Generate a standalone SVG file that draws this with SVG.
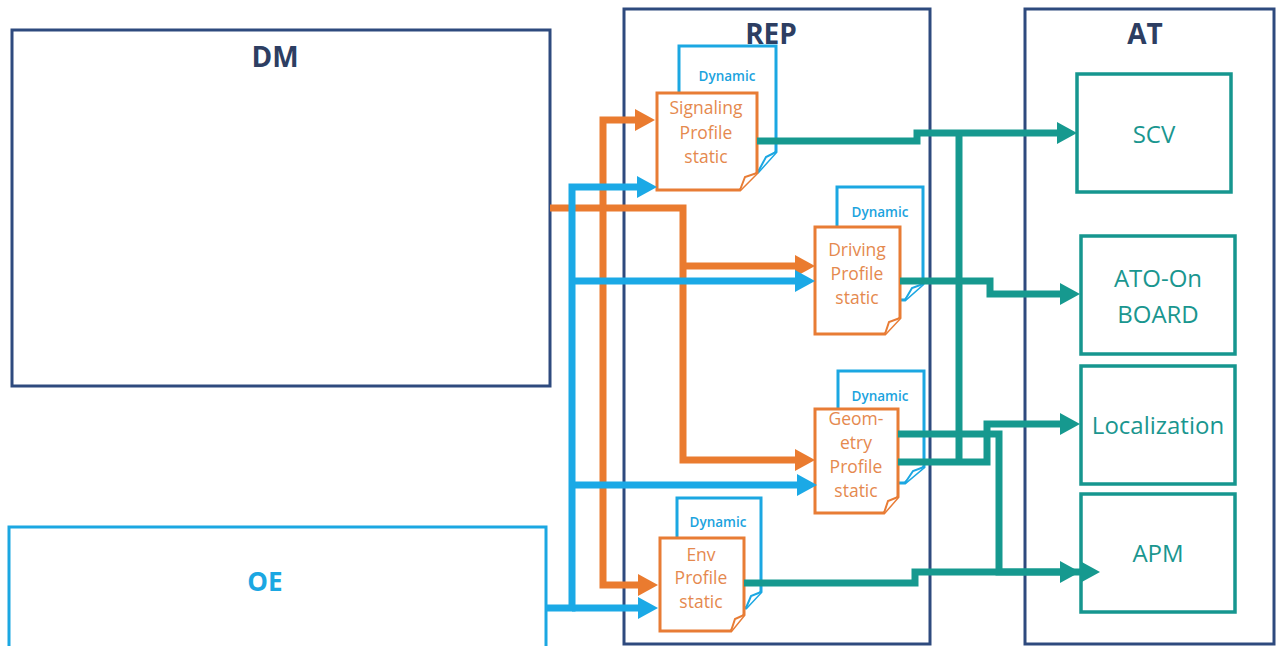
<svg xmlns="http://www.w3.org/2000/svg" width="1276" height="646" viewBox="0 0 1276 646">
  <style>
    .frame { fill: none; stroke: #2E4A7E; stroke-width: 3; }
    .oe { fill: none; stroke: #1BA7E2; stroke-width: 3; }
    .title { font-family: "Open Sans", "Liberation Sans", sans-serif; font-weight: 700; font-size: 28px; fill: #2D3E62; text-anchor: middle; }
    .atbox { fill: #ffffff; stroke: #16968F; stroke-width: 3.5; }
    .attext { font-family: "Open Sans", "Liberation Sans", sans-serif; font-size: 24px; fill: #1A968F; text-anchor: middle; }
    .dyn { fill: #ffffff; stroke: #1BA7E2; stroke-width: 3; stroke-linejoin: miter; }
    .dyntext { font-family: "Open Sans", "Liberation Sans", sans-serif; font-weight: 600; font-size: 13.5px; fill: #1BA3DE; text-anchor: middle; }
    .stat { fill: #ffffff; stroke: #E87C35; stroke-width: 3; stroke-linejoin: miter; }
    .fold { fill: #ffffff; stroke-width: 2; stroke-linejoin: miter; }
    .stattext { font-family: "Open Sans", "Liberation Sans", sans-serif; font-size: 17.5px; fill: #E5894E; text-anchor: middle; }
    .wire { fill: none; stroke-width: 7; stroke-linecap: butt; stroke-linejoin: miter; }
    .orange { stroke: #EA7B2F; }
    .blue { stroke: #1BA9E6; }
    .teal { stroke: #16998F; }
  </style>
  <defs>
    <marker id="arrOrange" markerUnits="userSpaceOnUse" markerWidth="20" markerHeight="22" refX="0" refY="11" orient="auto">
      <path d="M0,0 L20,11 L0,22 z" fill="#EA7B2F"/>
    </marker>
    <marker id="arrBlue" markerUnits="userSpaceOnUse" markerWidth="20" markerHeight="22" refX="0" refY="11" orient="auto">
      <path d="M0,0 L20,11 L0,22 z" fill="#1BA9E6"/>
    </marker>
    <marker id="arrTeal" markerUnits="userSpaceOnUse" markerWidth="20" markerHeight="22" refX="0" refY="11" orient="auto">
      <path d="M0,0 L20,11 L0,22 z" fill="#16998F"/>
    </marker>
  </defs>

  <rect width="1276" height="646" fill="#ffffff"/>

  <!-- system frames -->
  <g id="dm">
    <rect class="frame" x="12" y="30" width="538" height="356"/>
    <text class="title" x="275" y="67">DM</text>
  </g>
  <g id="oe">
    <rect class="oe" x="9" y="527" width="537" height="140"/>
    <text class="title" x="265" y="591" style="fill:#1BA7E2;font-size:26px">OE</text>
  </g>
  <g id="rep">
    <rect class="frame" x="624" y="9" width="306" height="635"/>
    <text class="title" x="771" y="44">REP</text>
  </g>
  <g id="at">
    <rect class="frame" x="1025" y="9" width="249" height="635"/>
    <text class="title" x="1145" y="44">AT</text>
  </g>

  <!-- AT consumers -->
  <g id="scv">
    <rect class="atbox" x="1077" y="74" width="154" height="118"/>
    <text class="attext" x="1154" y="143">SCV</text>
  </g>
  <g id="ato">
    <rect class="atbox" x="1081" y="236" width="154" height="118"/>
    <text class="attext" x="1158" y="287">ATO-On</text>
    <text class="attext" x="1158" y="323">BOARD</text>
  </g>
  <g id="localization">
    <rect class="atbox" x="1081" y="366" width="154" height="118"/>
    <text class="attext" x="1158" y="434">Localization</text>
  </g>
  <g id="apm">
    <rect class="atbox" x="1081" y="494" width="154" height="118"/>
    <text class="attext" x="1158" y="562">APM</text>
  </g>

  <!-- profile documents: dynamic page behind, static page in front -->
  <g id="signaling">
    <path class="dyn" d="M679,172 V46 H776 V152 L758,172 z"/>
    <path class="fold" stroke="#1BA7E2" d="M776,152 L766,157 L758,172"/>
    <text class="dyntext" x="727" y="81">Dynamic</text>
    <path class="stat" d="M657,93 H757 V173 L740,190 H657 z"/>
    <path class="fold" stroke="#E87C35" d="M757,173 L745,177 L740,190"/>
    <text class="stattext" x="706" y="114">Signaling</text>
    <text class="stattext" x="706" y="139">Profile</text>
    <text class="stattext" x="706" y="163">static</text>
  </g>
  <g id="driving">
    <path class="dyn" d="M837,299 V187 H923 V284 L905,300 z"/>
    <path class="fold" stroke="#1BA7E2" d="M923,284 L912,288 L905,300"/>
    <text class="dyntext" x="880" y="217">Dynamic</text>
    <path class="stat" d="M815,227 H900 V318 L885,334 H815 z"/>
    <path class="fold" stroke="#E87C35" d="M900,318 L889,322 L885,334"/>
    <text class="stattext" x="857" y="256">Driving</text>
    <text class="stattext" x="857" y="280">Profile</text>
    <text class="stattext" x="857" y="304">static</text>
  </g>
  <g id="geometry">
    <path class="dyn" d="M838,483 V371 H924 V467 L905,483 z"/>
    <path class="fold" stroke="#1BA7E2" d="M924,467 L913,471 L905,483"/>
    <text class="dyntext" x="880" y="401">Dynamic</text>
    <path class="stat" d="M815,409 H898 V497 L884,513 H815 z"/>
    <path class="fold" stroke="#E87C35" d="M898,497 L888,501 L884,513"/>
    <text class="stattext" x="856" y="425">Geom-</text>
    <text class="stattext" x="856" y="449">etry</text>
    <text class="stattext" x="856" y="473">Profile</text>
    <text class="stattext" x="856" y="497">static</text>
  </g>
  <g id="env">
    <path class="dyn" d="M677,608 V498 H761 V592 L746,608 z"/>
    <path class="fold" stroke="#1BA7E2" d="M761,592 L751,596 L746,608"/>
    <text class="dyntext" x="718" y="527">Dynamic</text>
    <path class="stat" d="M660,538 H744 V615 L731,631 H660 z"/>
    <path class="fold" stroke="#E87C35" d="M744,615 L735,619 L731,631"/>
    <text class="stattext" x="701" y="561">Env</text>
    <text class="stattext" x="701" y="584">Profile</text>
    <text class="stattext" x="701" y="608">static</text>
  </g>

  <!-- data flows -->
  <g id="connectors">
    <!-- DM feeds the static pages -->
    <path class="wire orange" d="M550,208 H683 V460 H795" marker-end="url(#arrOrange)"/>
    <path class="wire orange" d="M683,266 H795" marker-end="url(#arrOrange)"/>
    <path class="wire orange" d="M603,208 V120 H635" marker-end="url(#arrOrange)"/>
    <path class="wire orange" d="M603,208 V585 H638" marker-end="url(#arrOrange)"/>
    <!-- OE feeds the static pages -->
    <path class="wire blue" d="M546,608 H572 V187 H637" marker-end="url(#arrBlue)"/>
    <path class="wire blue" d="M572,281 H795" marker-end="url(#arrBlue)"/>
    <path class="wire blue" d="M572,485 H797" marker-end="url(#arrBlue)"/>
    <path class="wire blue" d="M572,608 H638" marker-end="url(#arrBlue)"/>
    <!-- profiles to AT consumers -->
    <path class="wire teal" d="M757,141 H917 V133 H1057" marker-end="url(#arrTeal)"/>
    <path class="wire teal" d="M959,133 V462"/>
    <path class="wire teal" d="M900,281 H990 V294 H1060" marker-end="url(#arrTeal)"/>
    <path class="wire teal" d="M898,462 H987 V424 H1060" marker-end="url(#arrTeal)"/>
    <path class="wire teal" d="M898,434 H999 V572 H1080" marker-end="url(#arrTeal)"/>
    <path class="wire teal" d="M744,583 H915 V572 H1060" marker-end="url(#arrTeal)"/>
  </g>
</svg>
